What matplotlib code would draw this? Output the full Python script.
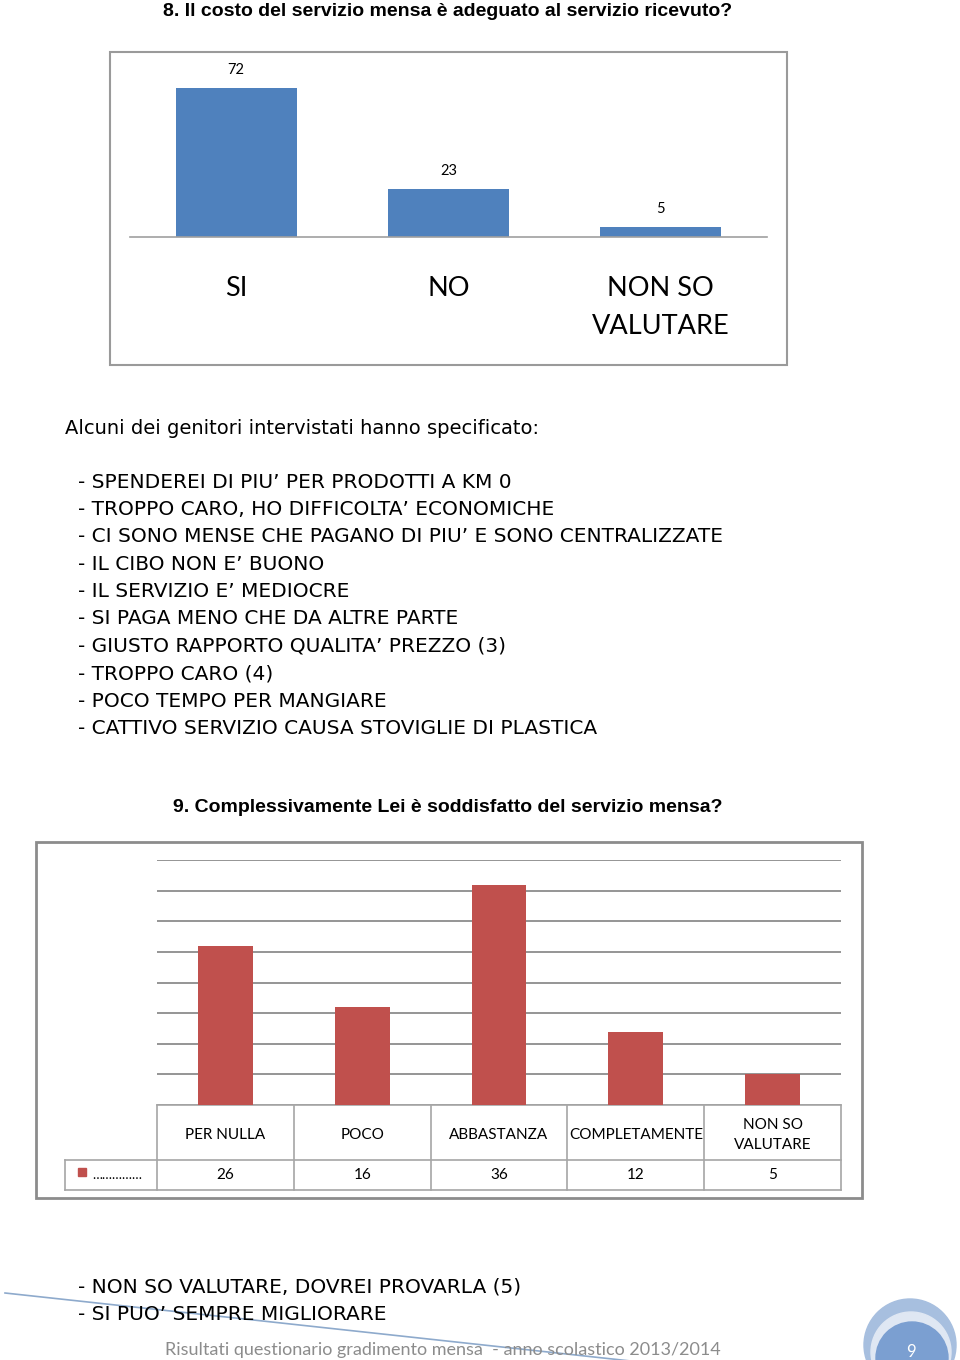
import matplotlib
matplotlib.use("Agg")
import matplotlib.pyplot as plt
from matplotlib.patches import Rectangle, Circle
from matplotlib.transforms import blended_transform_factory

# --- data ---
q8_title = "8. Il costo del servizio mensa è adeguato al servizio ricevuto?"
q8_categories = ["SI", "NO", "NON SO\nVALUTARE"]
q8_values = [72, 23, 5]

q8_notes_intro = "Alcuni dei genitori intervistati hanno specificato:"
q8_notes = [
    "- SPENDEREI DI PIU’ PER PRODOTTI A KM 0",
    "- TROPPO CARO, HO DIFFICOLTA’ ECONOMICHE",
    "- CI SONO MENSE CHE PAGANO DI PIU’ E SONO CENTRALIZZATE",
    "- IL CIBO NON E’ BUONO",
    "- IL SERVIZIO E’ MEDIOCRE",
    "- SI PAGA MENO CHE DA ALTRE PARTE",
    "- GIUSTO RAPPORTO QUALITA’ PREZZO (3)",
    "- TROPPO CARO (4)",
    "- POCO TEMPO PER MANGIARE",
    "- CATTIVO SERVIZIO CAUSA STOVIGLIE DI PLASTICA",
]

q9_title = "9. Complessivamente Lei è soddisfatto del servizio mensa?"
q9_categories = ["PER NULLA", "POCO", "ABBASTANZA", "COMPLETAMENTE", "NON SO\nVALUTARE"]
q9_values = [26, 16, 36, 12, 5]
q9_ticks = [0, 5, 10, 15, 20, 25, 30, 35, 40]

q9_notes = [
    "- NON SO VALUTARE, DOVREI PROVARLA (5)",
    "- SI PUO’ SEMPRE MIGLIORARE",
]
footer = "Risultati questionario gradimento mensa  - anno scolastico 2013/2014"
page_no = "9"

W, H = 960, 1360
BLUE = "#4f81bd"
RED = "#c0504d"
GRAY = "#9a9a9a"
CAL = ["Lato", "DejaVu Sans"]


def box(l, t, r, b):
    # pixel box (from top-left) -> figure fraction
    return [l / W, 1 - b / H, (r - l) / W, (b - t) / H]


fig = plt.figure(figsize=(9.6, 13.6), dpi=100)
page = fig.add_axes([0, 0, 1, 1])
page.set_xlim(0, W)
page.set_ylim(H, 0)
page.axis("off")

# ---- question 8 ----
page.text(448, 12, q8_title, ha="center", va="center", fontsize=14,
          fontweight="bold", family="Liberation Sans")
page.add_patch(Rectangle((110, 52), 677, 313, fill=False, ec=GRAY, lw=1.5))

ax1 = fig.add_axes(box(130, 60, 767, 237))
x1 = range(len(q8_values))
ax1.bar(x1, q8_values, width=0.57, color=BLUE)
ax1.set_xlim(-0.5, 2.5)
ax1.set_ylim(0, 177 / 2.07)
for s in ["top", "right", "left"]:
    ax1.spines[s].set_visible(False)
ax1.spines["bottom"].set_color("#a0a0a0")
ax1.spines["bottom"].set_linewidth(1.2)
ax1.set_yticks([])
ax1.set_xticks(list(x1))
ax1.set_xticklabels(q8_categories, fontsize=19.5, family=CAL, linespacing=1.65,
                    va="top")
ax1.tick_params(axis="x", length=0, pad=28)
for xi, v in zip(x1, q8_values):
    ax1.annotate(str(v), (xi, v), xytext=(0, 13), textcoords="offset points",
                 ha="center", va="center", fontsize=10.5, family=CAL)

# notes
page.text(65, 428, q8_notes_intro, ha="left", va="center", fontsize=14,
          family="DejaVu Sans")
for i, line in enumerate(q8_notes):
    page.text(78, 482 + i * 27.4, line, ha="left", va="center", fontsize=14.5,
              family="DejaVu Sans")

# ---- question 9 ----
page.text(448, 808, q9_title, ha="center", va="center", fontsize=14,
          fontweight="bold", family="Liberation Sans")
page.add_patch(Rectangle((36, 842), 826, 356, fill=False, ec="#8c8c8c", lw=2))

ax2 = fig.add_axes(box(157, 860, 841, 1105))
x2 = range(len(q9_values))
ax2.set_axisbelow(True)
ax2.bar(x2, q9_values, width=0.4, color=RED, zorder=3)
ax2.set_xlim(-0.5, len(q9_values) - 0.5)
ax2.set_ylim(0, 40)
ax2.set_yticks(q9_ticks)
ax2.set_yticklabels([])
ax2.tick_params(length=0)
ax2.set_xticks([])
ax2.grid(axis="y", color="#8c8c8c", lw=1.3)
for s in ax2.spines.values():
    s.set_visible(False)

# data table under the plot
tr = blended_transform_factory(ax2.transData, ax2.transAxes)
ax_h = 245.0
hdr_b = -55 / ax_h
row_b = -85 / ax_h
lbl_l = -92 / 684
tc = "#a6a6a6"
ax2.plot([-0.5, 4.5], [0, 0], transform=tr, color=tc, lw=1.2, clip_on=False)
ax2.plot([lbl_l, 1], [hdr_b, hdr_b], transform=ax2.transAxes, color=tc, lw=1.2, clip_on=False)
ax2.plot([lbl_l, 1], [row_b, row_b], transform=ax2.transAxes, color=tc, lw=1.2, clip_on=False)
ax2.plot([lbl_l, lbl_l], [hdr_b, row_b], transform=ax2.transAxes, color=tc, lw=1.2, clip_on=False)
for k in range(len(q9_values) + 1):
    ax2.plot([k - 0.5, k - 0.5], [0, row_b], transform=tr, color=tc, lw=1.2,
             clip_on=False)
for xi, cat, v in zip(x2, q9_categories, q9_values):
    ax2.text(xi, hdr_b / 2 - 0.01, cat, transform=tr, ha="center", va="center",
             fontsize=11, family=CAL, linespacing=1.5)
    ax2.text(xi, (hdr_b + row_b) / 2, str(v), transform=tr, ha="center",
             va="center", fontsize=11, family=CAL)
ax2.plot([lbl_l + 0.025], [(hdr_b + row_b) / 2 + 0.012], transform=ax2.transAxes,
         marker="s", ms=6, color=RED, clip_on=False)
ax2.text(lbl_l + 0.04, (hdr_b + row_b) / 2, "……………", transform=ax2.transAxes,
         ha="left", va="center", fontsize=9.5, family=CAL)

for i, line in enumerate(q9_notes):
    page.text(78, 1287 + i * 27.4, line, ha="left", va="center", fontsize=14.5,
              family="DejaVu Sans")

# ---- footer ----
page.plot([5, 640], [1293, 1362], color="#8eaacc", lw=1.2)
page.text(443, 1350, footer, ha="center", va="center", fontsize=13,
          family=CAL, color="#8c8c8c")
page.add_patch(Circle((910, 1345), 46, color="#a7bfdf", clip_on=True))
page.add_patch(Circle((911, 1352), 40, color="#dfe7f3", clip_on=True))
page.add_patch(Circle((912, 1358), 36, color="#7b9fd1", clip_on=True))
page.text(911, 1352, page_no, ha="center", va="center", fontsize=12,
          family=CAL, color="white")

fig.savefig("out.png", dpi=100)
